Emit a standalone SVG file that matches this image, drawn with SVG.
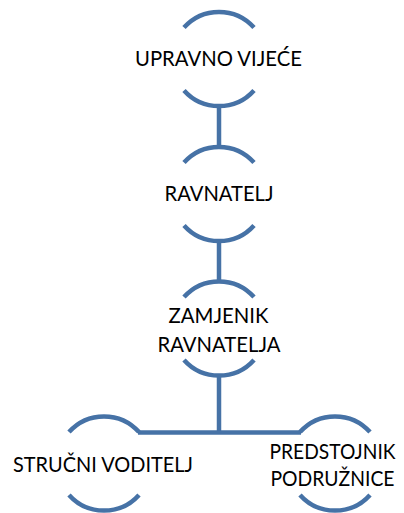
<svg xmlns="http://www.w3.org/2000/svg" width="404" height="513" viewBox="0 0 404 513">
<style>
.arc{fill:none;stroke:#4672a6;stroke-width:4.5}
.con{fill:none;stroke:#4672a6;stroke-width:4.5}
text{font-family:Lato,"Open Sans","Liberation Sans",sans-serif;font-size:22px;fill:#000;text-anchor:middle}
</style>
<rect width="404" height="513" fill="#fff"/>
<g id="connectors">
<line class="con" x1="219" y1="105" x2="219" y2="148"/>
<line class="con" x1="219" y1="240" x2="219" y2="282.5"/>
<line class="con" x1="219" y1="374.5" x2="219" y2="432.5"/>
<line class="con" x1="138" y1="432.5" x2="301" y2="432.5"/>
</g>
<g id="n1">
<path class="arc" d="M184,27.6 A47,47 0 0 1 254,27.6"/>
<path class="arc" d="M184,90.4 A47,47 0 0 0 254,90.4"/>
<text x="218.5" y="66" textLength="167" lengthAdjust="spacingAndGlyphs">UPRAVNO VIJEĆE</text>
</g>
<g id="n2">
<path class="arc" d="M184,162.6 A47,47 0 0 1 254,162.6"/>
<path class="arc" d="M184,225.4 A47,47 0 0 0 254,225.4"/>
<text x="219" y="201" textLength="109" lengthAdjust="spacingAndGlyphs">RAVNATELJ</text>
</g>
<g id="n3">
<path class="arc" d="M184,297.1 A47,47 0 0 1 254,297.1"/>
<path class="arc" d="M184,359.9 A47,47 0 0 0 254,359.9"/>
<text x="218.5" y="323" textLength="100" lengthAdjust="spacingAndGlyphs">ZAMJENIK</text>
<text x="219" y="352" textLength="123" lengthAdjust="spacingAndGlyphs">RAVNATELJA</text>
</g>
<g id="n4">
<path class="arc" d="M69,432.1 A47,47 0 0 1 139,432.1"/>
<path class="arc" d="M69,494.9 A47,47 0 0 0 139,494.9"/>
<text x="103" y="471.5" textLength="180" lengthAdjust="spacingAndGlyphs">STRUČNI VODITELJ</text>
</g>
<g id="n5">
<path class="arc" d="M300,432.1 A47,47 0 0 1 370,432.1"/>
<path class="arc" d="M300,494.9 A47,47 0 0 0 370,494.9"/>
<text x="332.5" y="459" textLength="126" lengthAdjust="spacingAndGlyphs">PREDSTOJNIK</text>
<text x="332.5" y="486" textLength="124" lengthAdjust="spacingAndGlyphs">PODRUŽNICE</text>
</g>
</svg>
